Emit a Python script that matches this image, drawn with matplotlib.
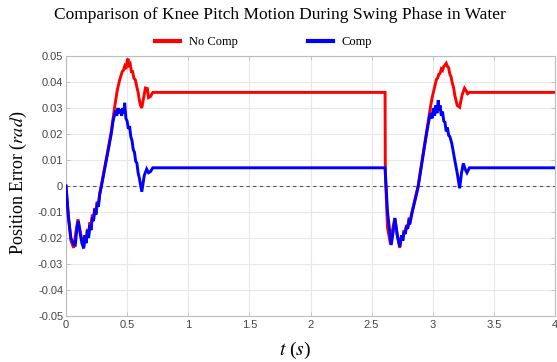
import matplotlib
matplotlib.use("Agg")
import matplotlib.pyplot as plt
from matplotlib.lines import Line2D

plt.rcParams['mathtext.fontset'] = 'stix'

# ---------------- data ----------------
series_names = ["No Comp", "Comp"]

red_t = [0.00, 0.02, 0.04, 0.063, 0.08, 0.098, 0.115, 0.13, 0.145, 0.155,
         0.165, 0.175, 0.185, 0.195, 0.205, 0.215, 0.225, 0.235, 0.245, 0.255,
         0.265, 0.275, 0.29, 0.31, 0.33, 0.35, 0.37, 0.385, 0.40, 0.41,
         0.42, 0.43, 0.44, 0.45, 0.46, 0.47, 0.48, 0.49, 0.50, 0.507,
         0.515, 0.525, 0.535, 0.545, 0.555, 0.567, 0.58, 0.59, 0.60, 0.61,
         0.62, 0.635, 0.65, 0.665, 0.675, 0.69, 0.71, 2.61,
         2.61, 2.612, 2.63, 2.655, 2.67, 2.69, 2.71, 2.73, 2.745, 2.755,
         2.765, 2.775, 2.785, 2.795, 2.805, 2.815, 2.83, 2.85, 2.865, 2.88,
         2.90, 2.92, 2.94, 2.96, 2.98, 2.995, 3.01, 3.02, 3.03, 3.04,
         3.05, 3.06, 3.07, 3.08, 3.09, 3.10, 3.11, 3.12, 3.13, 3.14,
         3.15, 3.16, 3.17, 3.18, 3.19, 3.20, 3.22, 3.24, 3.26, 3.275,
         3.285, 3.30, 4.0]
red_y = [0.0, -0.012, -0.021, -0.0238, -0.018, -0.0128, -0.017, -0.021, -0.0233, -0.019,
         -0.021, -0.0165, -0.019, -0.014, -0.016, -0.011, -0.013, -0.0085, -0.0105, -0.006,
         -0.0075, -0.003, 0.0005, 0.0055, 0.0105, 0.0155, 0.021, 0.026, 0.031, 0.034,
         0.037, 0.039, 0.041, 0.0425, 0.044, 0.0445, 0.046, 0.045, 0.048, 0.049,
         0.0465, 0.047, 0.044, 0.044, 0.0415, 0.0408, 0.038, 0.036, 0.033, 0.031,
         0.030, 0.034, 0.0377, 0.0375, 0.034, 0.0344, 0.036, 0.036,
         0.036, 0.005, -0.016, -0.0225, -0.017, -0.0125, -0.019, -0.0238, -0.019, -0.021,
         -0.017, -0.018, -0.015, -0.016, -0.013, -0.0135, -0.010, -0.006, -0.003, 0.0,
         0.006, 0.012, 0.018, 0.024, 0.030, 0.034, 0.037, 0.039, 0.041, 0.0415,
         0.043, 0.0433, 0.045, 0.0445, 0.046, 0.0465, 0.0472, 0.046, 0.0455, 0.043,
         0.042, 0.0395, 0.038, 0.035, 0.033, 0.031, 0.0303, 0.035, 0.0376, 0.0365,
         0.0355, 0.036, 0.036]

blue_t = [0.00, 0.02, 0.04, 0.063, 0.076, 0.09, 0.10, 0.115, 0.13, 0.145,
          0.155, 0.165, 0.175, 0.185, 0.195, 0.205, 0.215, 0.225, 0.235, 0.245,
          0.255, 0.265, 0.275, 0.29, 0.31, 0.33, 0.35, 0.37, 0.385, 0.395,
          0.405, 0.415, 0.425, 0.435, 0.445, 0.455, 0.465, 0.475, 0.48, 0.49,
          0.50, 0.51, 0.52, 0.53, 0.54, 0.55, 0.56, 0.57, 0.58, 0.59,
          0.60, 0.62, 0.64, 0.66, 0.675, 0.69, 0.71, 2.61,
          2.61, 2.63, 2.66, 2.675, 2.69, 2.71, 2.73, 2.745, 2.755, 2.765,
          2.775, 2.785, 2.795, 2.805, 2.815, 2.83, 2.85, 2.865, 2.88, 2.90,
          2.92, 2.94, 2.96, 2.98, 2.995, 3.005, 3.015, 3.025, 3.035, 3.045,
          3.05, 3.06, 3.07, 3.08, 3.09, 3.10, 3.11, 3.12, 3.13, 3.14,
          3.155, 3.165, 3.18, 3.20, 3.22, 3.235, 3.25, 3.265, 3.28, 3.30,
          4.0]
blue_y = [0.0, -0.012, -0.020, -0.0225, -0.0227, -0.016, -0.0135, -0.018, -0.022, -0.024,
          -0.019, -0.022, -0.017, -0.020, -0.015, -0.017, -0.012, -0.0135, -0.009, -0.011,
          -0.0065, -0.008, -0.0035, 0.0, 0.005, 0.010, 0.015, 0.020, 0.025, 0.027,
          0.029, 0.027, 0.030, 0.028, 0.0295, 0.027, 0.030, 0.028, 0.032, 0.026,
          0.025, 0.022, 0.023, 0.019, 0.0175, 0.014, 0.013, 0.0095, 0.0088, 0.005,
          0.003, -0.0022, 0.004, 0.0065, 0.0051, 0.0055, 0.007, 0.007,
          0.007, -0.010, -0.0227, -0.018, -0.0123, -0.019, -0.0233, -0.019, -0.021, -0.0175,
          -0.0185, -0.0155, -0.0165, -0.0135, -0.014, -0.0105, -0.0065, -0.0035, -0.0005, 0.0055,
          0.0115, 0.0175, 0.023, 0.028, 0.026, 0.030, 0.027, 0.031, 0.028, 0.033,
          0.029, 0.031, 0.027, 0.0286, 0.025, 0.0245, 0.021, 0.0225, 0.0195, 0.019,
          0.0165, 0.014, 0.010, 0.005, -0.0009, 0.005, 0.0087, 0.0065, 0.0051, 0.007,
          0.007]

x_ticks = [0, 0.5, 1, 1.5, 2, 2.5, 3, 3.5, 4]
x_tick_labels = ["0", "0.5", "1", "1.5", "2", "2.5", "3", "3.5", "4"]
y_ticks = [-0.05, -0.04, -0.03, -0.02, -0.01, 0, 0.01, 0.02, 0.03, 0.04, 0.05]
y_tick_labels = ["-0.05", "-0.04", "-0.03", "-0.02", "-0.01", "0",
                 "0.01", "0.02", "0.03", "0.04", "0.05"]

# ---------------- figure ----------------
fig = plt.figure(figsize=(5.57, 3.62), dpi=100)
ax = fig.add_axes([66/557, 1-316/362, (555-66)/557, (316-56)/362])

ax.plot(red_t, red_y, color="#ff0000", lw=2.1, solid_joinstyle="miter", zorder=3)
ax.plot(blue_t, blue_y, color="#0000ff", lw=2.1, solid_joinstyle="miter", zorder=4)
ax.axhline(0, color="#555555", lw=0.8, ls=(0, (3, 3)), zorder=2)

ax.set_xlim(0, 4)
ax.set_ylim(-0.05, 0.05)
ax.set_xticks(x_ticks)
ax.set_xticklabels(x_tick_labels)
ax.set_yticks(y_ticks)
ax.set_yticklabels(y_tick_labels)
ax.grid(True, color="#e8e8e8", lw=0.8, zorder=0)
ax.set_axisbelow(True)
for s in ax.spines.values():
    s.set_color("#bdbdbd")
    s.set_linewidth(0.8)
ax.tick_params(direction="in", length=3, width=0.6, color="#bdbdbd",
               top=True, right=True, labelsize=8, labelcolor="#444444", pad=2)
ax.tick_params(axis="x", pad=3)
for lab in ax.get_xticklabels() + ax.get_yticklabels():
    lab.set_family("Liberation Sans")

fig.text(0.503, 1-15/362, "Comparison of Knee Pitch Motion During Swing Phase in Water",
         ha="center", va="center", family="Liberation Serif", fontsize=12.5)
fig.text(18/557, 1-183/362, r"Position Error ($rad$)", rotation=90,
         ha="center", va="center", family="Liberation Serif", fontsize=13)
fig.text(0.53, 1-350/362, r"$t$ ($s$)", ha="center", va="center",
         family="Liberation Serif", fontsize=14)

handles = [Line2D([], [], color="#ff0000", lw=3),
           Line2D([], [], color="#0000ff", lw=3)]
fig.legend(handles, series_names, loc="center", bbox_to_anchor=(0.473, 1-42/362),
           ncol=2, frameon=False, prop={"family": "Liberation Serif", "size": 9},
           handlelength=2.0, handletextpad=0.7, columnspacing=5.6)

fig.savefig("out.png", dpi=100)
